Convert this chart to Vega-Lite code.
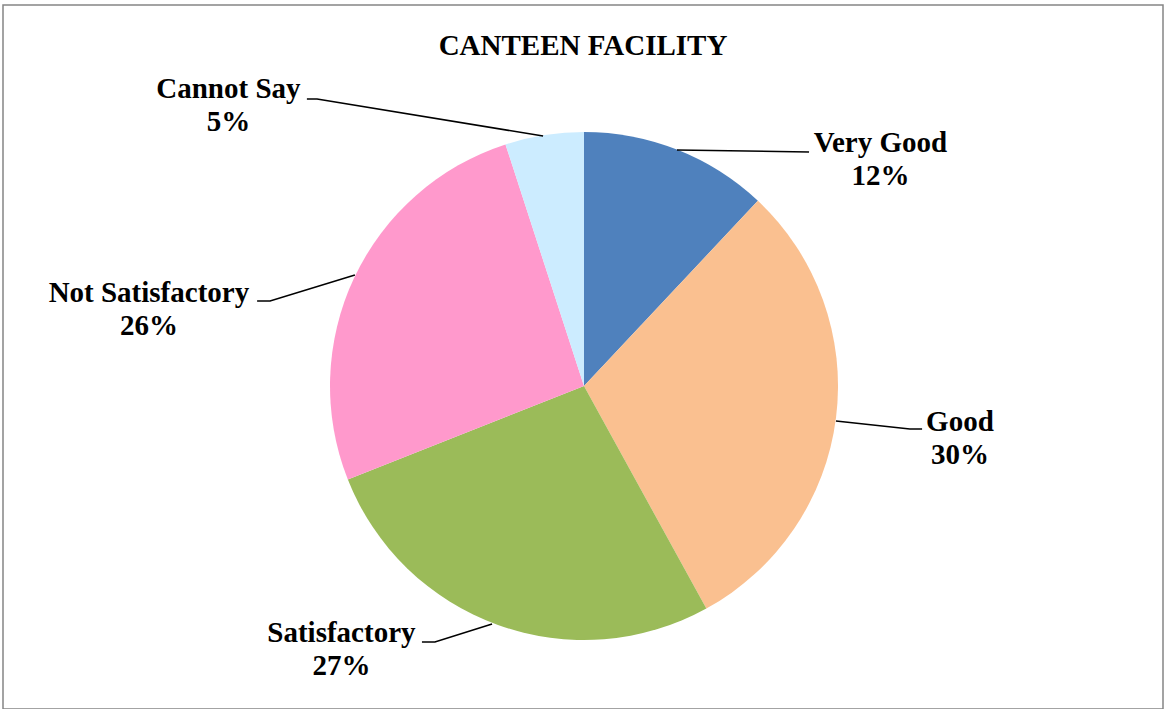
{
  "$schema": "https://vega.github.io/schema/vega-lite/v6.json",
  "autosize": {"type": "none"},
  "width": 1160,
  "height": 704,
  "padding": {"left": 3, "top": 5, "right": 2, "bottom": 0},
  "background": "white",
  "title": {"text": "CANTEEN FACILITY", "font": "Liberation Serif", "fontSize": 29, "fontWeight": "bold", "color": "black", "offset": -79, "baseline": "alphabetic", "anchor": "middle"},
  "config": {"view": {"stroke": "#858585", "strokeWidth": 1.5}, "text": {"font": "Liberation Serif"}, "font": "Liberation Serif"},
  "datasets": {
    "slices": [
      {"category": "Very Good", "share": 0.12, "i": 1, "lx": 116.7, "ly": 92.1},
      {"category": "Good", "share": 0.30, "i": 2, "lx": 148.0, "ly": -17.7},
      {"category": "Satisfactory", "share": 0.27, "i": 3, "lx": -95.5, "ly": -100.8},
      {"category": "Not Satisfactory", "share": 0.26, "i": 4, "lx": -171.3, "ly": 33.1},
      {"category": "Cannot Say", "share": 0.05, "i": 5, "lx": -140.0, "ly": 113.4}
    ],
    "leaders": [
      {"category": "Cannot Say", "k": 1, "x": -16.1, "y": 98.4},
      {"category": "Cannot Say", "k": 2, "x": -105.1, "y": 113.0},
      {"category": "Cannot Say", "k": 3, "x": -109.1, "y": 113.0},
      {"category": "Very Good", "k": 1, "x": 36.6, "y": 92.9},
      {"category": "Very Good", "k": 2, "x": 88.6, "y": 92.1},
      {"category": "Good", "k": 1, "x": 99.2, "y": -13.8},
      {"category": "Good", "k": 2, "x": 128.3, "y": -16.9},
      {"category": "Good", "k": 3, "x": 133.1, "y": -16.9},
      {"category": "Not Satisfactory", "k": 1, "x": -90.2, "y": 43.7},
      {"category": "Not Satisfactory", "k": 2, "x": -123.6, "y": 33.5},
      {"category": "Not Satisfactory", "k": 3, "x": -128.7, "y": 33.5},
      {"category": "Satisfactory", "k": 1, "x": -36.2, "y": -93.7},
      {"category": "Satisfactory", "k": 2, "x": -58.7, "y": -100.8},
      {"category": "Satisfactory", "k": 3, "x": -63.8, "y": -100.8}
    ]
  },
  "layer": [
    {
      "data": {"name": "slices"},
      "mark": {"type": "arc", "outerRadius": 254},
      "encoding": {
        "x": {"datum": 0, "type": "quantitative", "scale": {"domain": [-228.74, 227.95], "nice": false, "zero": false}, "axis": null},
        "y": {"datum": 0, "type": "quantitative", "scale": {"domain": [-127.17, 150], "nice": false, "zero": false}, "axis": null},
        "theta": {"field": "share", "type": "quantitative", "stack": true},
        "order": {"field": "i", "type": "quantitative"},
        "color": {"field": "category", "type": "nominal", "scale": {"domain": ["Very Good", "Good", "Satisfactory", "Not Satisfactory", "Cannot Say"], "range": ["#4F81BD", "#FAC090", "#9BBB59", "#FF99CC", "#CCECFF"]}, "legend": null}
      }
    },
    {
      "data": {"name": "leaders"},
      "mark": {"type": "line", "color": "black", "strokeWidth": 1.5},
      "encoding": {
        "x": {"field": "x", "type": "quantitative", "scale": {"domain": [-228.74, 227.95], "nice": false, "zero": false}, "axis": null},
        "y": {"field": "y", "type": "quantitative", "scale": {"domain": [-127.17, 150], "nice": false, "zero": false}, "axis": null},
        "detail": {"field": "category"},
        "order": {"field": "k", "type": "quantitative"}
      }
    },
    {
      "data": {"name": "slices"},
      "mark": {"type": "text", "font": "Liberation Serif", "fontSize": 29, "fontWeight": "bold", "color": "black", "align": "center", "baseline": "alphabetic"},
      "encoding": {
        "x": {"field": "lx", "type": "quantitative", "scale": {"domain": [-228.74, 227.95], "nice": false, "zero": false}, "axis": null},
        "y": {"field": "ly", "type": "quantitative", "scale": {"domain": [-127.17, 150], "nice": false, "zero": false}, "axis": null},
        "text": {"field": "category"}
      }
    },
    {
      "data": {"name": "slices"},
      "mark": {"type": "text", "font": "Liberation Serif", "fontSize": 29, "fontWeight": "bold", "color": "black", "align": "center", "baseline": "alphabetic", "dy": 33},
      "encoding": {
        "x": {"field": "lx", "type": "quantitative", "scale": {"domain": [-228.74, 227.95], "nice": false, "zero": false}, "axis": null},
        "y": {"field": "ly", "type": "quantitative", "scale": {"domain": [-127.17, 150], "nice": false, "zero": false}, "axis": null},
        "text": {"field": "share", "type": "quantitative", "format": ".0%"}
      }
    }
  ]
}
